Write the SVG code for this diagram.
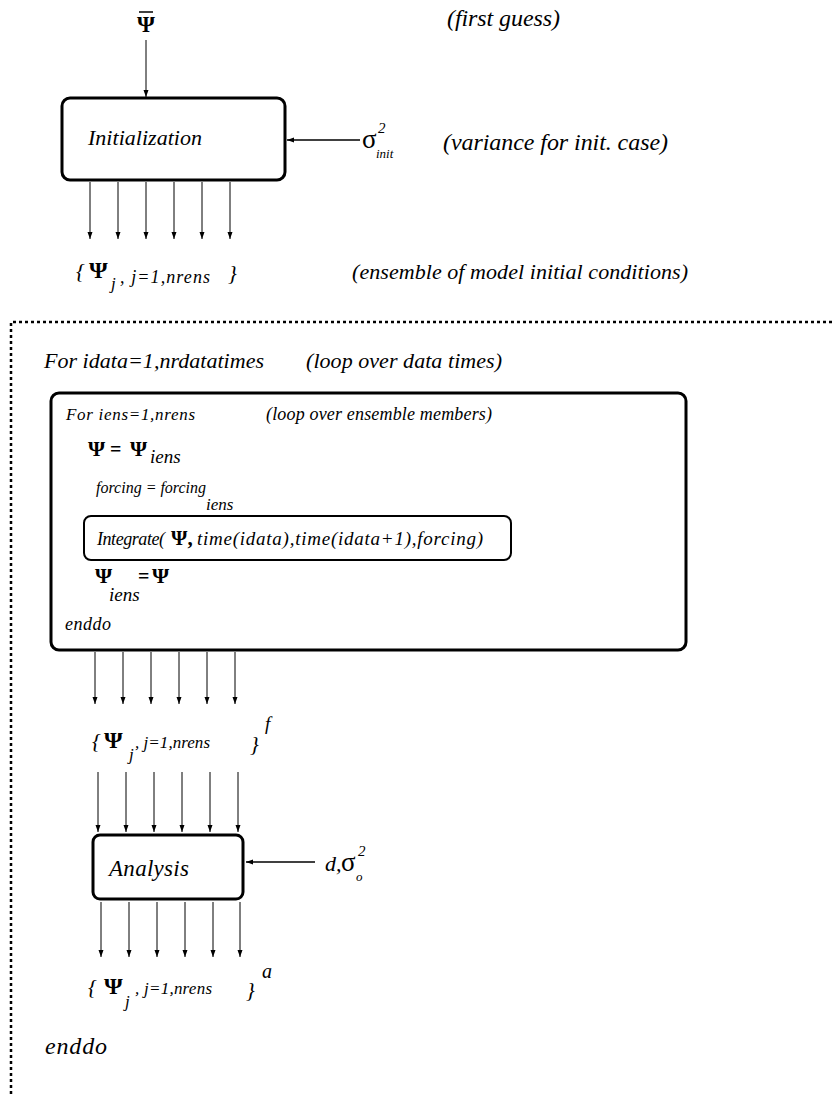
<svg xmlns="http://www.w3.org/2000/svg" width="835" height="1094" viewBox="0 0 835 1094" font-family="'Liberation Serif', 'Times New Roman', Times, serif">
<style>
text{font-family:'Liberation Serif','Times New Roman',Times,serif;fill:#000}
.it{font-style:italic}
.b{font-weight:bold}
.box{fill:#fff;stroke:#000;stroke-width:3}
.c line{stroke:#000;stroke-width:1}
.c .thick{stroke-width:1.6}
</style>
<defs>
<marker id="ah" markerWidth="8" markerHeight="8" refX="7" refY="4" orient="auto" markerUnits="userSpaceOnUse">
<path d="M0,1.5 L7,4 L0,6.5 Z" fill="#000"/>
</marker>
</defs>
<rect width="835" height="1094" fill="#fff"/>

<g id="first-guess">
<line x1="139" y1="12" x2="153" y2="12" stroke="#000" stroke-width="1.5"/>
<text x="137" y="32" font-size="23" class="b">Ψ</text>
<text x="447" y="26" font-size="24" class="it" textLength="113">(first guess)</text>
</g>

<g id="init">
<rect class="box" x="62" y="98" width="223" height="82" rx="8"/>
<text x="88" y="145" font-size="22" class="it" textLength="114">Initialization</text>
</g>

<g id="sigma-init">
<text x="362" y="148" font-size="27">σ</text>
<text x="378" y="133" font-size="15" class="it">2</text>
<text x="376" y="158" font-size="13" class="it">init</text>
<text x="443" y="150" font-size="24" class="it" textLength="225">(variance for init. case)</text>
</g>

<g id="ens-init">
<text x="76" y="278" font-size="22" class="it">{</text>
<text x="89" y="278" font-size="24" class="b">Ψ</text>
<text x="111" y="289" font-size="17" class="it">j</text>
<text x="120" y="283" font-size="18" class="it" textLength="90">,  j=1,nrens</text>
<text x="228" y="280" font-size="22" class="it">}</text>
<text x="352" y="279" font-size="22" class="it" textLength="336">(ensemble of model initial conditions)</text>
</g>

<g id="outer-loop">
<path d="M11,1094 L11,322 L835,322" fill="none" stroke="#000" stroke-width="2.5" stroke-dasharray="3,3"/>
<text x="44" y="368" font-size="22" class="it" textLength="220">For idata=1,nrdatatimes</text>
<text x="306" y="368" font-size="22" class="it" textLength="196">(loop over data times)</text>
<text x="45" y="1054" font-size="24" class="it" textLength="62">enddo</text>
</g>

<g id="ens-loop">
<rect class="box" x="51" y="393" width="635" height="257" rx="8"/>
<text x="66" y="420" font-size="17" class="it" textLength="129">For iens=1,nrens</text>
<text x="266" y="420" font-size="18" class="it" textLength="226">(loop over ensemble members)</text>
<text x="88" y="456" font-size="22" class="b">Ψ</text>
<text x="110" y="456" font-size="20" class="b">=</text>
<text x="130" y="456" font-size="22" class="b">Ψ</text>
<text x="150" y="463" font-size="19" class="it">iens</text>
<text x="96" y="493" font-size="16" class="it">forcing = forcing</text>
<text x="206" y="510" font-size="17" class="it">iens</text>
<text x="95" y="583" font-size="22" class="b">Ψ</text>
<text x="109" y="601" font-size="19" class="it">iens</text>
<text x="138" y="583" font-size="20" class="b">=</text>
<text x="152" y="583" font-size="22" class="b">Ψ</text>
<text x="65" y="630" font-size="18" class="it" textLength="46">enddo</text>
</g>

<g id="integrate">
<rect x="84" y="516" width="427" height="44" rx="7" fill="#fff" stroke="#000" stroke-width="2"/>
<text x="97" y="545" font-size="18" class="it" textLength="68">Integrate(</text>
<text x="171" y="545" font-size="21" class="b">Ψ,</text>
<text x="197" y="545" font-size="19" class="it" textLength="286">time(idata),time(idata+1),forcing)</text>
</g>

<g id="ens-forecast">
<text x="92" y="748" font-size="22" class="it">{</text>
<text x="104" y="748" font-size="24" class="b">Ψ</text>
<text x="129" y="760" font-size="17" class="it">j</text>
<text x="135" y="748" font-size="17" class="it" textLength="75">,  j=1,nrens</text>
<text x="250" y="751" font-size="22" class="it">}</text>
<text x="265" y="730" font-size="19" class="it">f</text>
</g>

<g id="analysis">
<rect class="box" x="93" y="835" width="150" height="64" rx="7"/>
<text x="109" y="876" font-size="23" class="it" textLength="80">Analysis</text>
</g>

<g id="obs">
<text x="325" y="871" font-size="22" class="it">d,</text>
<text x="341" y="871" font-size="27">σ</text>
<text x="358" y="856" font-size="15" class="it">2</text>
<text x="356" y="881" font-size="13" class="it">o</text>
</g>

<g id="ens-analysis">
<text x="88" y="994" font-size="22" class="it">{</text>
<text x="104" y="994" font-size="24" class="b">Ψ</text>
<text x="125" y="1007" font-size="17" class="it">j</text>
<text x="135" y="994" font-size="17" class="it" textLength="77">,  j=1,nrens</text>
<text x="246" y="997" font-size="22" class="it">}</text>
<text x="262" y="978" font-size="20" class="it">a</text>
</g>

<g id="connectors" class="c">
<line x1="146" y1="40" x2="146" y2="97" marker-end="url(#ah)"/>
<line class="thick" x1="360" y1="140" x2="287" y2="140" marker-end="url(#ah)"/>
<line x1="90" y1="182" x2="90" y2="239" marker-end="url(#ah)"/>
<line x1="118" y1="182" x2="118" y2="239" marker-end="url(#ah)"/>
<line x1="146" y1="182" x2="146" y2="239" marker-end="url(#ah)"/>
<line x1="174" y1="182" x2="174" y2="239" marker-end="url(#ah)"/>
<line x1="202" y1="182" x2="202" y2="239" marker-end="url(#ah)"/>
<line x1="230" y1="182" x2="230" y2="239" marker-end="url(#ah)"/>

<line x1="95" y1="652" x2="95" y2="704" marker-end="url(#ah)"/>
<line x1="123" y1="652" x2="123" y2="704" marker-end="url(#ah)"/>
<line x1="151" y1="652" x2="151" y2="704" marker-end="url(#ah)"/>
<line x1="179" y1="652" x2="179" y2="704" marker-end="url(#ah)"/>
<line x1="207" y1="652" x2="207" y2="704" marker-end="url(#ah)"/>
<line x1="235" y1="652" x2="235" y2="704" marker-end="url(#ah)"/>

<line x1="98" y1="772" x2="98" y2="832" marker-end="url(#ah)"/>
<line x1="126" y1="772" x2="126" y2="832" marker-end="url(#ah)"/>
<line x1="154" y1="772" x2="154" y2="832" marker-end="url(#ah)"/>
<line x1="182" y1="772" x2="182" y2="832" marker-end="url(#ah)"/>
<line x1="210" y1="772" x2="210" y2="832" marker-end="url(#ah)"/>
<line x1="238" y1="772" x2="238" y2="832" marker-end="url(#ah)"/>

<line class="thick" x1="315" y1="862" x2="246" y2="862" marker-end="url(#ah)"/>

<line x1="101" y1="902" x2="101" y2="957" marker-end="url(#ah)"/>
<line x1="129" y1="902" x2="129" y2="957" marker-end="url(#ah)"/>
<line x1="157" y1="902" x2="157" y2="957" marker-end="url(#ah)"/>
<line x1="185" y1="902" x2="185" y2="957" marker-end="url(#ah)"/>
<line x1="213" y1="902" x2="213" y2="957" marker-end="url(#ah)"/>
<line x1="240" y1="902" x2="240" y2="957" marker-end="url(#ah)"/>
</g>
</svg>
